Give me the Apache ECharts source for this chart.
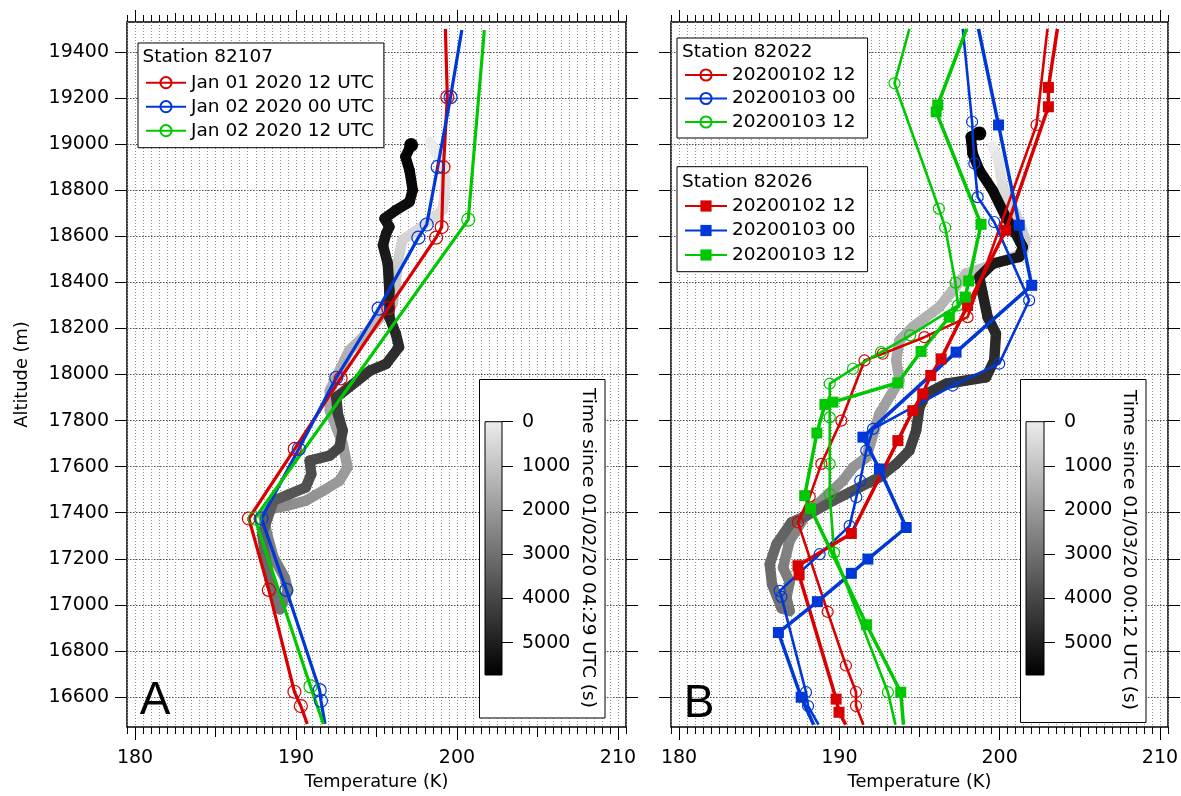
<!DOCTYPE html>
<html><head><meta charset="utf-8">
<script src="https://cdn.jsdelivr.net/npm/echarts@6/dist/echarts.min.js"></script>
<style>html,body{margin:0;padding:0;background:#fff}#c{width:1181px;height:796px}</style>
</head><body><div id="c"></div>
<script>
const FONT = 'DejaVu Sans';
const RED = '#d80000', BLUE = '#0038d8', GREEN = '#00c800';

// tick labels / tick values
const xMajorTicks = [180, 190, 200, 210];
const xMidTicks = [185, 195, 205];
const xTopMidTicks = [182.5, 185, 187.5, 192.5, 195, 197.5, 202.5, 205, 207.5];
const altTicks = [16600, 16800, 17000, 17200, 17400, 17600, 17800, 18000, 18200, 18400, 18600, 18800, 19000, 19200, 19400];
const timeTicks = [0, 1000, 2000, 3000, 4000, 5000];

// Panel A: station 82107 soundings [T (K), altitude (m)]
const a_jan01_12 = [[199.28,19500],[199.4,19204],[199.16,18900],[199.05,18640],[198.7,18594],[195.73,18288],[192.77,17983],[189.92,17677],[187.07,17375],[188.31,17065],[189.9,16623],[190.3,16561],[190.7,16483]];
const a_jan02_00 = [[200.3,19495],[199.6,19204],[198.8,18901],[198.12,18651],[197.6,18594],[195.13,18286],[192.5,17986],[190.17,17677],[187.85,17375],[189.4,17065],[191.47,16630],[191.55,16584],[191.8,16483]];
const a_jan02_12 = [[201.7,19495],[200.7,18672],[187.44,17375],[190.9,16646],[191.7,16483]];

// Panel B: station 82022 (circles)
const b22_0102_12 = [[202.98,19500],[202.3,19083],[198.0,18249],[195.3,18162],[192.7,18090],[191.57,18061],[190.12,17800],[188.88,17612],[188.15,17470],[187.42,17358],[189.27,16970],[190.41,16737],[191.04,16622],[191.04,16561],[191.5,16480]];
const b22_0103_00 = [[197.7,19500],[198.28,19097],[198.42,18916],[198.63,18770],[199.66,18662],[201.84,18322],[199.97,18047],[197.07,17952],[192.1,17764],[191.68,17670],[191.3,17539],[191.06,17467],[190.64,17343],[188.77,17220],[186.28,17061],[186.39,17035],[187.92,16621],[188.05,16561],[188.7,16480]];
const b22_0103_12 = [[194.37,19500],[193.44,19264],[196.21,18720],[196.6,18638],[197.24,18399],[197.4,18300],[194.42,18170],[192.6,18097],[190.85,18025],[189.4,17960],[189.4,17814],[189.4,17612],[189.4,17481],[189.67,17227],[193.03,16621],[193.5,16480]];
// Panel B: station 82026 (squares)
const b26_0102_12 = [[203.6,19500],[203.04,19246],[203.04,19162],[200.38,18626],[198.0,18300],[196.35,18068],[195.7,17996],[195.2,17916],[194.58,17843],[193.65,17713],[190.75,17310],[187.42,17170],[187.49,17130],[189.8,16591],[189.98,16534],[190.4,16480]];
const b26_0103_00 = [[198.68,19500],[199.93,19083],[201.22,18648],[202.0,18387],[197.28,18097],[191.47,17728],[192.5,17590],[194.17,17336],[191.78,17199],[190.75,17137],[188.63,17014],[186.2,16880],[187.62,16599],[188.4,16480]];
const b26_0103_12 = [[197.94,19500],[196.14,19170],[196.04,19140],[198.84,18652],[198.07,18406],[197.86,18336],[196.86,18249],[195.1,18100],[193.65,17964],[189.6,17880],[189.1,17870],[188.6,17746],[187.84,17474],[188.2,17419],[191.7,16914],[193.83,16621],[194.0,16480]];

// Balloon traces [T (K), altitude (m), time (s)]
const traceA = [[198.3,19010,0],[199.1,18916,100],[199.3,18843,200],[199.2,18771,300],[199.1,18713,380],[197.5,18626,500],[196.6,18583,600],[196.3,18481,750],[196.2,18394,900],[196.0,18307,1050],[194.15,18162,1300],[193.3,18104,1400],[192.1,17930,1600],[192.1,17843,1700],[192.9,17699,1850],[193.2,17597,1950],[192.7,17539,2000],[191.7,17496,2100],[190.6,17452,2200],[189.4,17430,2300],[188.4,17416,2380],[188.0,17380,2450],[188.2,17307,2550],[188.6,17206,2650],[189.3,17119,2750],[189.5,17061,2820],[189.0,16981,2900],
  [188.4,17097,3050],[188.1,17206,3200],[187.9,17307,3350],[188.6,17452,3550],[189.6,17481,3650],[190.6,17510,3750],[190.95,17568,3830],[190.85,17626,3900],[192.1,17648,3980],[192.7,17684,4050],[192.9,17757,4150],[192.6,17829,4250],[192.5,17901,4350],[194.6,18017,4500],[195.6,18046,4580],[196.4,18119,4680],[196.2,18177,4750],[195.8,18249,4850],[195.8,18365,4950],[195.7,18481,5050],[195.4,18561,5150],[195.6,18612,5200],[195.8,18641,5250],[195.5,18677,5300],[196.2,18713,5380],[197.05,18749,5450],[197.25,18800,5520],[197.05,18887,5600],[196.8,18945,5650],[197.15,18996,5730]];
const traceB = [[199.56,18990,0],[199.87,18945,150],[200.19,18814,400],[201.0,18699,600],[201.63,18583,800],[201.44,18525,900],[199.15,18466,1050],[197.9,18438,1150],[197.07,18365,1250],[196.24,18293,1350],[194.58,18206,1500],[193.75,18148,1580],[193.55,18061,1680],[193.75,17974,1770],[192.5,17829,1900],[191.68,17640,2050],[190.85,17597,2120],[190.23,17539,2200],[189.0,17460,2300],[187.95,17395,2400],[186.9,17278,2550],[186.49,17162,2680],[186.9,17100,2750],[186.7,17032,2820],[186.9,16974,2900],
  [186.4,16985,2980],[185.8,17090,3080],[185.66,17177,3150],[186.08,17264,3250],[187.01,17358,3400],[187.95,17387,3500],[189.6,17452,3650],[191.26,17510,3800],[192.5,17554,3900],[193.55,17612,4000],[194.37,17670,4100],[194.79,17757,4200],[195.0,17858,4300],[195.41,17916,4380],[196.66,17960,4450],[199.15,17988,4550],[199.66,18061,4650],[199.77,18177,4750],[199.25,18249,4850],[198.94,18351,4950],[198.73,18423,5020],[199.56,18481,5100],[201.22,18510,5200],[201.44,18553,5250],[201.0,18612,5320],[200.38,18684,5400],[199.56,18800,5500],[198.73,18887,5580],[198.31,18959,5640],[198.2,19032,5690],[198.73,19046,5730]];
const TMAX = 5730;

function grey(t) {
  const g = Math.round(236 * (1 - Math.min(Math.max(t / TMAX, 0), 1)));
  return 'rgb(' + g + ',' + g + ',' + g + ')';
}
const plain = v => String(v);

function xAxes(gi, withName) {
  const tick = (len, extra) => Object.assign({show: true, inside: false, length: len, lineStyle: {color: '#000', width: 1}}, extra || {});
  const base = {gridIndex: gi, type: 'value', min: 179.5, max: 210.5, axisLine: {show: false, onZero: false},
    splitLine: {show: false}, axisLabel: {show: false}, axisPointer: {show: false}};
  const main = Object.assign({}, base, {position: 'bottom', interval: 0.5, axisTick: tick(7),
    splitLine: {show: true, lineStyle: {color: '#8c8c8c', width: 1, type: [1, 2]}},
    axisLabel: {show: true, customValues: xMajorTicks, formatter: plain, margin: 22, color: '#000', fontFamily: FONT, fontSize: 19}});
  if (withName) Object.assign(main, {name: 'Temperature (K)', nameLocation: 'middle', nameGap: 46,
    nameTextStyle: {color: '#000', fontFamily: FONT, fontSize: 17.8}});
  return [
    main,
    Object.assign({}, base, {position: 'bottom', axisTick: tick(10, {customValues: xMidTicks})}),
    Object.assign({}, base, {position: 'bottom', axisTick: tick(13, {customValues: xMajorTicks})}),
    Object.assign({}, base, {position: 'top', interval: 0.5, axisTick: tick(7)}),
    Object.assign({}, base, {position: 'top', axisTick: tick(9, {customValues: xTopMidTicks})}),
    Object.assign({}, base, {position: 'top', axisTick: tick(12, {customValues: xMajorTicks})})
  ];
}

function yAxes(gi, labels) {
  const left = {gridIndex: gi, type: 'value', min: 16470, max: 19530, position: 'left',
    axisLine: {show: false, onZero: false},
    axisTick: {show: true, inside: false, length: 12, customValues: altTicks, lineStyle: {color: '#000', width: 1}},
    axisLabel: labels ? {show: true, customValues: altTicks, formatter: plain, margin: 18, color: '#000', fontFamily: FONT, fontSize: 19} : {show: false},
    splitLine: {show: true, lineStyle: {color: '#4a4a4a', width: 1, type: [1.5, 1.5]}}};
  if (labels) Object.assign(left, {name: 'Altitude (m)', nameLocation: 'middle', nameGap: 96, nameRotate: 90,
    nameTextStyle: {color: '#000', fontFamily: FONT, fontSize: 17.8}});
  const right = {gridIndex: gi, type: 'value', min: 16470, max: 19530, position: 'right',
    axisLine: {show: false, onZero: false},
    axisTick: {show: true, inside: false, length: 12, customValues: altTicks, lineStyle: {color: '#000', width: 1}},
    axisLabel: {show: false}, splitLine: {show: false}};
  return [left, right];
}

function lineSeries(name, data, color, gi, kind) {
  const sq = kind === 'sq';
  return {
    type: 'line', name: name, xAxisIndex: gi * 6, yAxisIndex: gi * 2, z: 3,
    data: data.map((p, i) => (i === 0 || i === data.length - 1) ? {value: p, symbol: 'none'} : p),
    symbol: sq ? 'rect' : 'circle',
    symbolSize: sq ? 11 : (gi === 0 ? 13 : 11),
    lineStyle: {color: color, width: sq ? 3.5 : (gi === 0 ? 3.2 : 2.6)},
    itemStyle: sq ? {color: color} : {color: 'transparent', borderColor: color, borderWidth: 1.2},
    emphasis: {disabled: true}, silent: true
  };
}

function traceSeries(pts, gi) {
  return {
    type: 'custom', xAxisIndex: gi * 6, yAxisIndex: gi * 2, z: 1, silent: true,
    data: pts,
    renderItem: function (params, api) {
      const i = params.dataIndex;
      const a = api.coord([api.value(0), api.value(1)]);
      if (i >= pts.length - 1) {
        return {type: 'circle', shape: {cx: a[0], cy: a[1], r: 7}, style: {fill: grey(api.value(2))}};
      }
      const b = api.coord([pts[i + 1][0], pts[i + 1][1]]);
      return {
        type: 'line', shape: {x1: a[0], y1: a[1], x2: b[0], y2: b[1]},
        style: {lineWidth: 10.5, lineCap: 'round',
          stroke: new echarts.graphic.LinearGradient(a[0], a[1], b[0], b[1],
            [{offset: 0, color: grey(api.value(2))}, {offset: 1, color: grey(pts[i + 1][2])}], true)}
      };
    }
  };
}

function colorbarSeries(xi, yi) {
  return {
    type: 'custom', xAxisIndex: xi, yAxisIndex: yi, z: 9, silent: true,
    data: [[0, 0, 1, TMAX]],
    renderItem: function (params, api) {
      const a = api.coord([api.value(0), api.value(1)]);
      const b = api.coord([api.value(2), api.value(3)]);
      return {type: 'rect', shape: {x: a[0], y: a[1], width: b[0] - a[0], height: b[1] - a[1]},
        style: {fill: new echarts.graphic.LinearGradient(0, 0, 0, 1,
          [{offset: 0, color: grey(0)}, {offset: 1, color: grey(TMAX)}])}};
    }
  };
}

function cbAxisY(gi) {
  return {gridIndex: gi, type: 'value', min: 0, max: TMAX, inverse: true, position: 'right', z: 10,
    axisLine: {show: false, onZero: false},
    axisTick: {show: true, inside: false, length: 11, customValues: timeTicks, lineStyle: {color: '#000', width: 1}},
    axisLabel: {show: true, customValues: timeTicks, formatter: plain, margin: 20, color: '#000', fontFamily: FONT, fontSize: 19},
    splitLine: {show: false}};
}
function cbAxisX(gi) {
  return {gridIndex: gi, type: 'value', min: 0, max: 1, show: false};
}

const legendText = {fontFamily: FONT, fontSize: 18.5, color: '#000', lineHeight: 20};
const legendBase = {orient: 'vertical', itemWidth: 40, itemHeight: 14, backgroundColor: '#fff',
  borderColor: '#000', borderWidth: 1, selectedMode: false, textStyle: legendText};

const nA = ['Jan 01 2020 12 UTC', 'Jan 02 2020 00 UTC', 'Jan 02 2020 12 UTC'];
const nB = ['20200102 12', '20200103 00', '20200103 12'];

const series = [
  traceSeries(traceA, 0),
  traceSeries(traceB, 1),
  lineSeries(nA[0], a_jan01_12, RED, 0, 'c'),
  lineSeries(nA[1], a_jan02_00, BLUE, 0, 'c'),
  lineSeries(nA[2], a_jan02_12, GREEN, 0, 'c'),
  lineSeries('82022 ' + nB[0], b22_0102_12, RED, 1, 'c'),
  lineSeries('82022 ' + nB[1], b22_0103_00, BLUE, 1, 'c'),
  lineSeries('82022 ' + nB[2], b22_0103_12, GREEN, 1, 'c'),
  lineSeries('82026 ' + nB[0], b26_0102_12, RED, 1, 'sq'),
  lineSeries('82026 ' + nB[1], b26_0103_00, BLUE, 1, 'sq'),
  lineSeries('82026 ' + nB[2], b26_0103_12, GREEN, 1, 'sq'),
  colorbarSeries(12, 4),
  colorbarSeries(13, 5)
];

const txt = (text, x, y, size, extra) => Object.assign({type: 'text', x: x, y: y, z: 11, silent: true,
  style: {text: text, fill: '#000', font: size + 'px "' + FONT + '"', textAlign: 'left', textVerticalAlign: 'middle'}}, extra || {});
const rotTxt = (text, x, y) => ({type: 'text', x: x, y: y, z: 11, silent: true, rotation: -Math.PI / 2,
  style: {text: text, fill: '#000', font: '18.5px "' + FONT + '"', textAlign: 'center', textVerticalAlign: 'middle'}});
const bigTxt = (text, x, y) => ({type: 'text', x: x, y: y, z: 11, silent: true,
  style: {text: text, fill: '#000', font: '46px "Liberation Sans"', textAlign: 'center', textVerticalAlign: 'middle'}});

const option = {
  animation: false,
  backgroundColor: '#fff',
  grid: [
    {left: 127, top: 22, width: 499, height: 705, show: true, borderColor: '#000', borderWidth: 1.5, backgroundColor: '#fff', containLabel: false, outerBoundsMode: 'none'},
    {left: 671, top: 22, width: 497, height: 705, show: true, borderColor: '#000', borderWidth: 1.5, backgroundColor: '#fff', containLabel: false, outerBoundsMode: 'none'},
    {left: 485, top: 421.7, width: 17, height: 253.3, show: true, borderColor: '#000', borderWidth: 1, z: 10, outerBoundsMode: 'none'},
    {left: 1026, top: 421.7, width: 18, height: 253.3, show: true, borderColor: '#000', borderWidth: 1, z: 10, outerBoundsMode: 'none'}
  ],
  xAxis: [].concat(xAxes(0, true), xAxes(1, true), [cbAxisX(2), cbAxisX(3)]),
  yAxis: [].concat(yAxes(0, true), yAxes(1, false), [cbAxisY(2), cbAxisY(3)]),
  legend: [
    Object.assign({}, legendBase, {data: nA, left: 138, top: 43, padding: [29.7, 10, 7, 7], itemGap: 4}),
    Object.assign({}, legendBase, {data: nB.map(n => '82022 ' + n), left: 677, top: 38, padding: [27, 12, 6, 7], itemGap: 3.5, itemWidth: 42,
      formatter: n => n.slice(6)}),
    Object.assign({}, legendBase, {data: nB.map(n => '82026 ' + n), left: 677, top: 166.7, padding: [29.3, 12, 6.7, 7], itemGap: 4.5, itemWidth: 42,
      formatter: n => n.slice(6)})
  ],
  graphic: [
    {type: 'rect', z: 8, silent: true, shape: {x: 479.5, y: 379.5, width: 125.5, height: 338.5}, style: {fill: '#fff', stroke: '#000', lineWidth: 1}},
    {type: 'rect', z: 8, silent: true, shape: {x: 1020.5, y: 379.5, width: 125.5, height: 343}, style: {fill: '#fff', stroke: '#000', lineWidth: 1}},
    rotTxt('Time since 01/02/20 04:29 UTC (s)', 588, 548),
    rotTxt('Time since 01/03/20 00:12 UTC (s)', 1129, 550),
    txt('Station 82107', 142.5, 57, 18.5),
    txt('Station 82022', 682, 52, 18.5),
    txt('Station 82026', 682, 182, 18.5),
    bigTxt('A', 155, 701),
    bigTxt('B', 699, 704)
  ],
  series: series
};

const chart = echarts.init(document.getElementById('c'), null, {renderer: 'canvas'});
chart.setOption(option);
</script>
</body></html>
